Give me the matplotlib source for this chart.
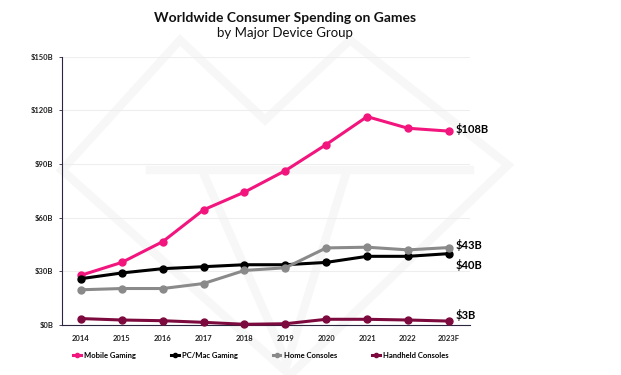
import numpy as np
from matplotlib import pyplot as plt
from matplotlib.lines import Line2D

years = ['2014', '2015', '2016', '2017', '2018', '2019', '2020', '2021', '2022', '2023F']
mobile = [27.8, 35.0, 46.6, 64.4, 74.3, 86.3, 100.9, 116.5, 110.0, 108.4]
pc = [25.9, 29.1, 31.5, 32.6, 33.7, 33.7, 35.0, 38.4, 38.4, 39.9]
home = [19.7, 20.4, 20.4, 23.2, 30.5, 32.0, 43.1, 43.5, 42.0, 43.3]
handheld = [3.6, 2.8, 2.4, 1.5, 0.4, 0.7, 3.2, 3.2, 2.8, 2.2]

names = ['Mobile Gaming', 'PC/Mac Gaming', 'Home Consoles', 'Handheld Consoles']
colors = ['#f2157d', '#000000', '#8a8a8a', '#7d0a3e']
end_labels = ['$108B', '$43B', '$40B', '$3B']
end_label_y = [109.5, 44.5, 33.5, 5.8]

plt.rcParams['font.family'] = ['Lato', 'DejaVu Sans']

fig = plt.figure(figsize=(6.21, 3.75), dpi=100)
fig.patch.set_facecolor('white')

# faint watermark shape behind everything (figure pixel coords)
wm = '#f7f7f7'
def px(xs, ys):
    return [x / 621 for x in xs], [1 - y / 375 for y in ys]
shapes = [
    ([62, 180, 265, 350, 508, 290, 62], [170, 40, 120, 40, 165, 375, 170]),
    ([205, 287, 345], [177, 363, 177]),
    ([150, 470], [170, 170]),
]
for xs, ys in shapes:
    fx, fy = px(xs, ys)
    fig.add_artist(Line2D(fx, fy, color=wm, lw=6, zorder=0, solid_joinstyle='miter'))

ax = fig.add_axes([0.0994, 0.1333, 0.657, 0.7155])
ax.set_facecolor('none')

x = np.arange(len(years))
series = [mobile, pc, home, handheld]
for vals, c, nm in zip(series, colors, names):
    ax.plot(x, vals, color=c, lw=2.2, marker='o', ms=5, label=nm, zorder=3, clip_on=False)

for lab, ly, c in zip(end_labels, end_label_y, colors):
    ax.text(x[-1] + 0.17, ly, lab, fontsize=8, fontweight='bold', color='black', va='center', ha='left')

ax.set_xlim(-0.47, 9.51)
ax.set_ylim(0, 150)
ax.set_yticks([0, 30, 60, 90, 120, 150])
ax.set_yticklabels(['\\$0B', '\\$30B', '\\$60B', '\\$90B', '\\$120B', '\\$150B'])
ax.set_xticks(x)
ax.set_xticklabels(years)
ax.tick_params(axis='both', labelsize=5.5, length=2, width=0.6, color='#2d2440', pad=4)
for lbl in ax.get_xticklabels() + ax.get_yticklabels():
    lbl.set_fontweight('bold')
    lbl.set_color('#222222')
ax.tick_params(axis='x', length=0, pad=7)

ax.grid(axis='y', color='#eeeeee', lw=0.8, zorder=0)
ax.set_axisbelow(True)
for s in ['top', 'right']:
    ax.spines[s].set_visible(False)
for s in ['left', 'bottom']:
    ax.spines[s].set_color('#2d2440')
    ax.spines[s].set_linewidth(0.8)

fig.text(0.459, 0.953, 'Worldwide Consumer Spending on Games', ha='center', va='center',
         fontsize=10, fontweight='bold', color='#111111')
fig.text(0.459, 0.912, 'by Major Device Group', ha='center', va='center',
         fontsize=9.5, color='#111111')

leg = fig.legend(loc='center', bbox_to_anchor=(0.42, 0.052), ncol=4, frameon=False,
                 fontsize=5.5, handlelength=1.0, handletextpad=0.4, columnspacing=4.6,
                 markerscale=0.6)
for t in leg.get_texts():
    t.set_fontweight('bold')

fig.savefig('out.png', dpi=100, facecolor='white')
